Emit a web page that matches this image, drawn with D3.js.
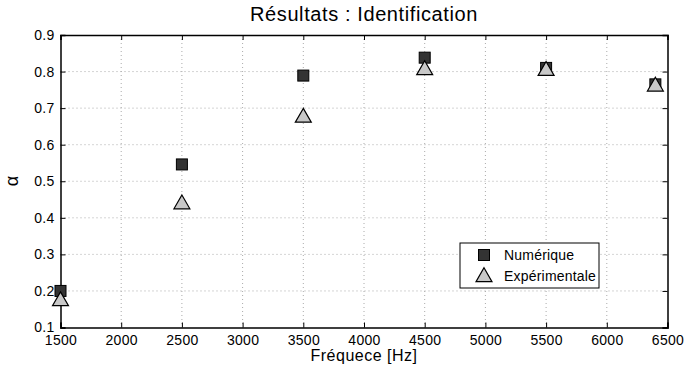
<!DOCTYPE html>
<html><head><meta charset="utf-8">
<script src="https://cdn.jsdelivr.net/npm/d3@7"></script>
<style>body{margin:0;background:#fff;} svg{display:block;font-family:"Liberation Sans",Arial,sans-serif;}</style>
</head><body>
<script>
const freqs = [1500, 2500, 3500, 4500, 5500, 6400];
const numerique = [0.20, 0.546, 0.789, 0.838, 0.81, 0.765];
const experimentale = [0.175, 0.44, 0.677, 0.807, 0.805, 0.762];
const xTicks = [1500, 2000, 2500, 3000, 3500, 4000, 4500, 5000, 5500, 6000, 6500];
const yTicks = [0.1, 0.2, 0.3, 0.4, 0.5, 0.6, 0.7, 0.8, 0.9];
const seriesNames = ["Numérique", "Expérimentale"];

const W = 685, H = 372;
const m = {left: 60.5, right: 667.5, top: 35, bottom: 327.5};
const svg = d3.select("body").append("svg").attr("width", W).attr("height", H);
const x = d3.scaleLinear().domain([1500, 6500]).range([m.left, m.right]);
const y = d3.scaleLinear().domain([0.1, 0.9]).range([m.bottom, m.top]);

// grid
const g = svg.append("g");
g.selectAll(".gx").data(xTicks.slice(1, -1)).enter().append("line")
  .attr("x1", d => x(d)).attr("x2", d => x(d)).attr("y1", m.top).attr("y2", m.bottom)
  .attr("stroke", "#aaa").attr("stroke-width", 1).attr("stroke-dasharray", "1,3");
g.selectAll(".gy").data(yTicks.slice(1, -1)).enter().append("line")
  .attr("y1", d => y(d)).attr("y2", d => y(d)).attr("x1", m.left).attr("x2", m.right)
  .attr("stroke", "#aaa").attr("stroke-width", 1).attr("stroke-dasharray", "1,3");

// axes
const tl = 5;
const xAxB = d3.axisBottom(x).tickValues(xTicks).tickSize(-tl).tickPadding(8).tickFormat(d3.format("d"));
const xAxT = d3.axisTop(x).tickValues(xTicks).tickSize(-tl).tickFormat("");
const yAxL = d3.axisLeft(y).tickValues(yTicks).tickSize(-tl).tickPadding(6).tickFormat(d3.format(".1f"));
const yAxR = d3.axisRight(y).tickValues(yTicks).tickSize(-tl).tickFormat("");
function style(sel){ sel.selectAll("path,line").attr("stroke","#000"); sel.select(".domain").attr("stroke-width",1.5); sel.selectAll("text").attr("fill","#000").attr("font-size",14).attr("letter-spacing","0.3px").attr("font-family","Liberation Sans, Arial, sans-serif"); }
svg.append("g").attr("transform", `translate(0,${m.bottom})`).call(xAxB).call(style);
svg.append("g").attr("transform", `translate(0,${m.top})`).call(xAxT).call(style);
svg.append("g").attr("transform", `translate(${m.left},0)`).call(yAxL).call(style);
svg.append("g").attr("transform", `translate(${m.right},0)`).call(yAxR).call(style);

// titles
svg.append("text").attr("x", 364).attr("y", 21).attr("text-anchor", "middle").attr("font-size", 20).attr("letter-spacing", "0.6px").text("Résultats : Identification");
svg.append("text").attr("x", 364).attr("y", 361).attr("text-anchor", "middle").attr("font-size", 16).attr("letter-spacing", "0.5px").text("Fréquece [Hz]");
svg.append("text").attr("transform", "translate(18,181) rotate(-90)").attr("text-anchor", "middle").attr("font-size", 18).text("α");

// markers
const sq = 11;
const tri = d3.symbol().type(d3.symbolTriangle).size(110);
const pts = svg.append("g");
pts.selectAll(".sq").data(freqs.map((f, i) => [f, numerique[i]])).enter().append("rect")
  .attr("x", d => x(d[0]) - sq/2).attr("y", d => y(d[1]) - sq/2).attr("width", sq).attr("height", sq)
  .attr("fill", "#333").attr("stroke", "#000").attr("stroke-width", 1);
pts.selectAll(".tr").data(freqs.map((f, i) => [f, experimentale[i]])).enter().append("path")
  .attr("d", tri).attr("transform", d => `translate(${x(d[0])},${y(d[1]) + 1})`)
  .attr("fill", "#c8c8c8").attr("stroke", "#000").attr("stroke-width", 1.2);

// legend
const lg = svg.append("g");
lg.append("rect").attr("x", 460).attr("y", 243).attr("width", 139).attr("height", 45).attr("fill", "#fff").attr("stroke", "#000").attr("stroke-width", 1);
lg.append("rect").attr("x", 484 - sq/2).attr("y", 255 - sq/2).attr("width", sq).attr("height", sq).attr("fill", "#333").attr("stroke", "#000");
lg.append("path").attr("d", tri).attr("transform", "translate(484,277)").attr("fill", "#c8c8c8").attr("stroke", "#000").attr("stroke-width", 1.2);
lg.selectAll(".lt").data(seriesNames).enter().append("text")
  .attr("x", 504).attr("y", (d, i) => 260 + i * 21).attr("font-size", 14).attr("letter-spacing", "0.2px").text(d => d);
</script>
</body></html>
